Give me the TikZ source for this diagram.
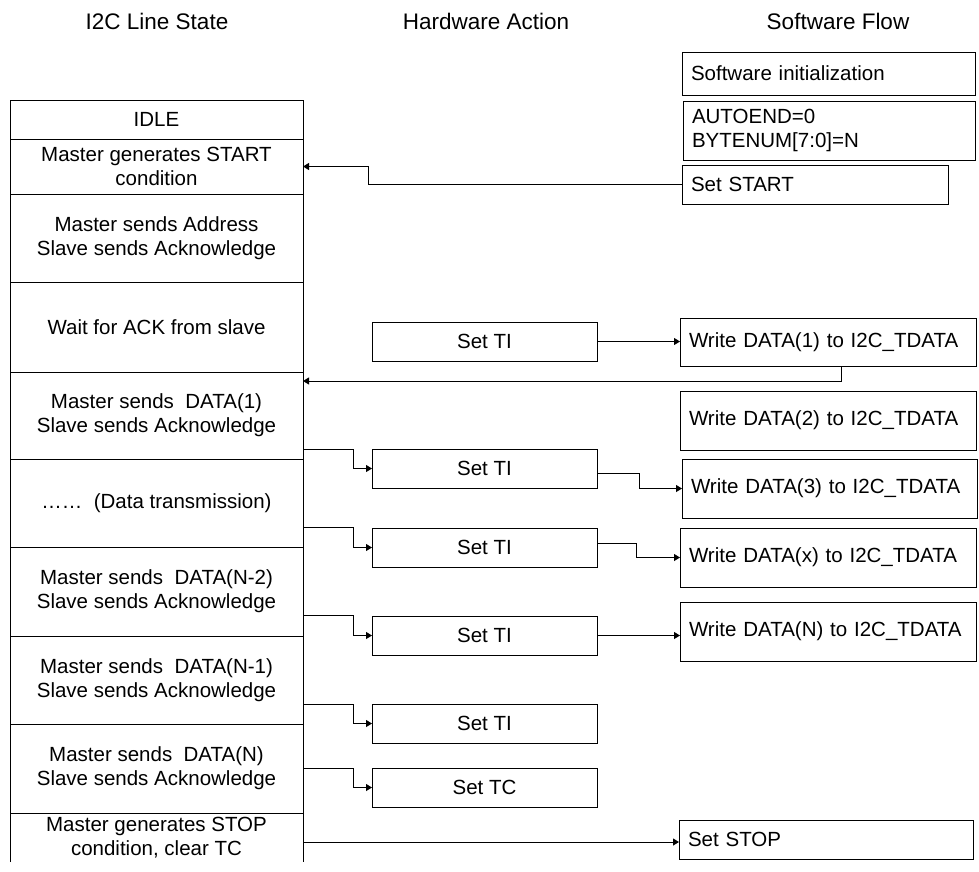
\documentclass[tikz,border=0pt]{standalone}
\usepackage{fontspec}
\setmainfont{Liberation Sans}
\usetikzlibrary{arrows.meta,positioning}

\begin{document}
\begin{tikzpicture}[x=1pt, y=-1pt,
    every node/.style={font=\fontsize{20.5}{24}\selectfont},
    head/.style={font=\fontsize{22.5}{27}\selectfont},
    row/.style={draw, line width=1pt, outer sep=0pt, inner sep=0pt, minimum width=293pt, minimum height=#1, anchor=north west, align=center},
    hw/.style={draw, line width=1pt, outer sep=0pt, inner sep=0pt, minimum width=225pt, minimum height=39pt, anchor=north west},
    sw/.style={draw, line width=1pt, outer sep=0pt, inner xsep=9pt, inner ysep=0pt, text width=#1, anchor=north west, align=left},
    arr/.style={-{Triangle[length=6pt,width=7pt]}, line width=1pt}
]
\useasboundingbox (0,0) rectangle (979,871);

\node[head] (hline) at (157,21) {I2C Line State};
\node[head] (hhw) at (486,21) {Hardware Action};
\node[head] (hsw) at (838,21) {Software Flow};

% line state
\node[row=39pt] (idle) at (10,100) {IDLE};
\node[row=55pt] (start) at (10,139) {Master generates START\\condition};
\node[row=88pt] (addr) at (10,194) {Master sends Address\\Slave sends Acknowledge};
\node[row=90pt] (wait) at (10,282) {Wait for ACK from slave};
\node[row=87pt] (data1) at (10,372) {Master sends\ \ DATA(1)\\Slave sends Acknowledge};
\node[row=88pt] (trans) at (10,459) {……\ \ (Data transmission)};
\node[row=89pt] (datan2) at (10,547) {Master sends\ \ DATA(N-2)\\Slave sends Acknowledge};
\node[row=88pt] (datan1) at (10,636) {Master sends\ \ DATA(N-1)\\Slave sends Acknowledge};
\node[row=89pt] (datan) at (10,724) {Master sends\ \ DATA(N)\\Slave sends Acknowledge};
\node[row=49pt, draw=none] (stop) at (10,813) {Master generates STOP\\condition, clear TC};
\draw[line width=1pt] (stop.south west) -- (stop.north west) (stop.north east) -- (stop.south east);

% hardware
\node[hw] (ti1) at (372,322) {Set TI};
\node[hw] (ti2) at (372,449) {Set TI};
\node[hw] (ti3) at (372,528) {Set TI};
\node[hw] (ti4) at (372,616) {Set TI};
\node[hw] (ti5) at (372,704) {Set TI};
\node[hw] (tc) at (372,768) {Set TC};

% software
\node[sw=275pt, minimum height=43pt] (swinit) at (682,52) {Software initialization};
\node[sw=274pt, minimum height=59pt] (autoend) at (683,101) {AUTOEND=0\\BYTENUM[7:0]=N};
\node[sw=248pt, minimum height=39pt] (setstart) at (682,165) {Set START};
\node[sw=278pt, minimum height=48pt] (wd1) at (680,318) {Write DATA(1) to I2C\_TDATA};
\node[sw=278pt, minimum height=59pt] (wd2) at (680,391) {Write DATA(2) to I2C\_TDATA};
\node[sw=277pt, minimum height=59pt] (wd3) at (682,459) {Write DATA(3) to I2C\_TDATA};
\node[sw=278pt, minimum height=59pt] (wdx) at (680,528) {Write DATA(x) to I2C\_TDATA};
\node[sw=278pt, minimum height=59pt] (wdn) at (680,602) {Write DATA(N) to I2C\_TDATA};
\node[sw=276pt, minimum height=39pt] (setstop) at (679,820) {Set STOP};

\draw[arr] (setstart.west) -- ++(-314,0) |- (start.east);
\draw[arr] (ti1.east) -- (ti1.east -| wd1.west);
\draw[arr] ([xshift=13pt]wd1.south) |- ([yshift=34.5pt]data1.east);
\draw[arr] ([yshift=-33.5pt]data1.east) -- ++(50,0) |- (ti2.west);
\draw[arr] ([yshift=-5pt]ti2.east) -- ++(42,0) |- (wd3.west);
\draw[arr] ([yshift=-24pt]trans.east) -- ++(50,0) |- (ti3.west);
\draw[arr] ([yshift=4.5pt]ti3.east) -- ++(39,0) |- (wdx.west);
\draw[arr] ([yshift=-23.5pt]datan2.east) -- ++(50,0) |- (ti4.west);
\draw[arr] (ti4.east) -- (ti4.east -| wdn.west);
\draw[arr] ([yshift=-24pt]datan1.east) -- ++(50,0) |- (ti5.west);
\draw[arr] (datan.east) -- ++(50,0) |- (tc.west);
\draw[arr] ([yshift=-4.5pt]stop.east) -- ([yshift=-4.5pt]stop.east -| setstop.west);
\end{tikzpicture}
\end{document}
